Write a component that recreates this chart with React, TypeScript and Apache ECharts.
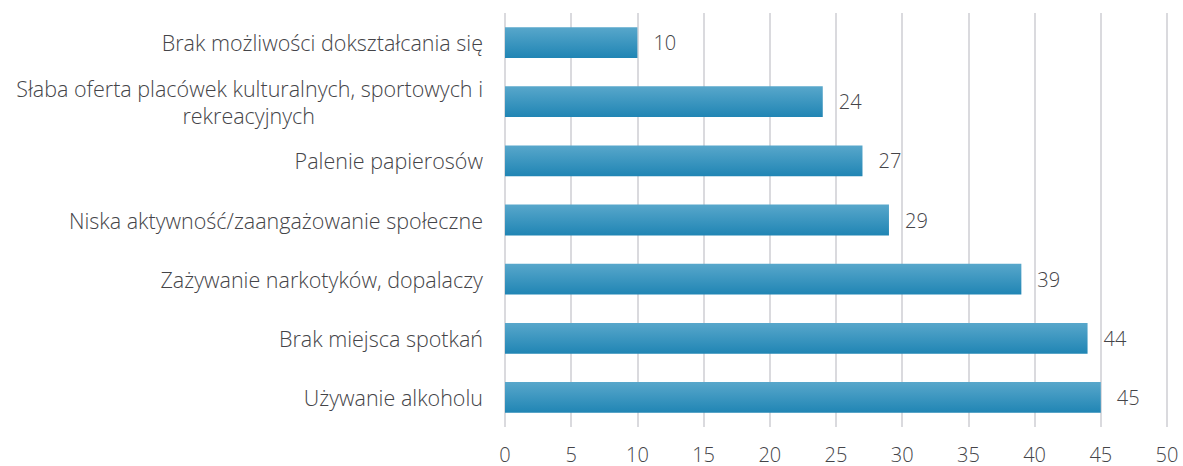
import React, { useEffect, useRef } from "react";
import * as echarts from "echarts";

const categories = [
  "Używanie alkoholu",
  "Brak miejsca spotkań",
  "Zażywanie narkotyków, dopalaczy",
  "Niska aktywność/zaangażowanie społeczne",
  "Palenie papierosów",
  "Słaba oferta placówek kulturalnych, sportowych i\nrekreacyjnych",
  "Brak możliwości dokształcania się",
];
const values = [45, 44, 39, 29, 27, 24, 10];
const xTicks = { min: 0, max: 50, interval: 5 };

const FONT = "'Open Sans', sans-serif";
const TEXT = "#444448";
const CAT_SIZE = 21.5;

export default function App() {
  const ref = useRef<HTMLDivElement>(null);
  useEffect(() => {
    if (!ref.current) return;
    const chart = echarts.init(ref.current, undefined, { renderer: "svg" });
    chart.setOption({
      animation: false,
      grid: { left: 505, right: 16, top: 13, bottom: 39, containLabel: false },
      xAxis: {
        type: "value",
        min: xTicks.min,
        max: xTicks.max,
        interval: xTicks.interval,
        axisLine: { show: false },
        axisTick: { show: false },
        splitLine: { show: true, lineStyle: { color: "#dadade", width: 2 } },
        axisLabel: { color: TEXT, fontFamily: FONT, fontWeight: 300, fontSize: 20, margin: 17 },
      },
      yAxis: {
        type: "category",
        data: categories,
        axisLine: { show: false },
        axisTick: { show: false },
        axisLabel: {
          color: TEXT,
          fontFamily: FONT,
          fontWeight: 300,
          fontSize: CAT_SIZE,
          margin: 22,
          lineHeight: 27,
          formatter: (v: string) => {
            if (v.includes("\n")) {
              const [a, b] = v.split("\n");
              return `{a|${a}}\n{b|${b}}`;
            }
            return v;
          },
          rich: {
            a: { color: TEXT, fontFamily: FONT, fontWeight: 300, fontSize: CAT_SIZE, lineHeight: 27 },
            b: { color: TEXT, fontFamily: FONT, fontWeight: 300, fontSize: CAT_SIZE, lineHeight: 27, padding: [0, 168, 0, 0] },
          },
        },
      },
      series: [
        {
          type: "bar",
          data: values,
          barWidth: "52%",
          itemStyle: {
            color: new echarts.graphic.LinearGradient(0, 0, 0, 1, [
              { offset: 0, color: "#58a7cb" },
              { offset: 1, color: "#2085b4" },
            ]),
          },
          label: {
            show: true,
            position: "right",
            distance: 16,
            color: TEXT,
            fontFamily: FONT,
            fontWeight: 300,
            fontSize: 20,
          },
        },
      ],
    });
    return () => chart.dispose();
  }, []);
  return <div ref={ref} style={{ width: 1183, height: 466, position: "absolute", left: 0, top: 0 }} />;
}
